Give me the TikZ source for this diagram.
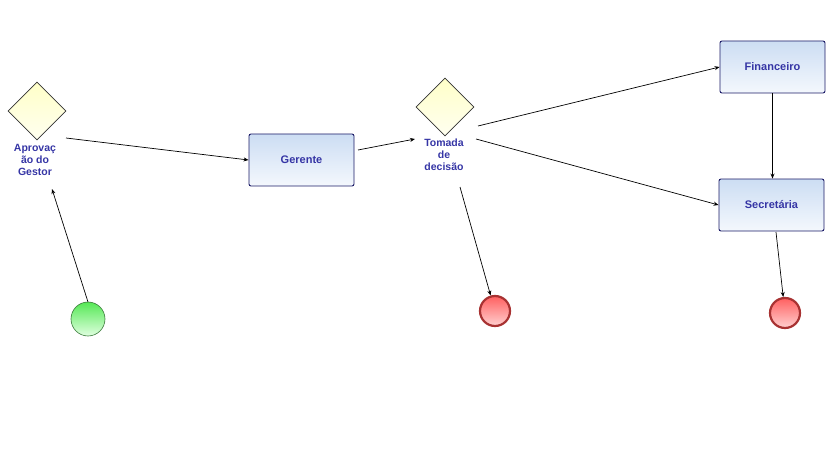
\documentclass[tikz,border=0pt]{standalone}
\usepackage{fontspec}
\setmainfont{Liberation Sans}
\usetikzlibrary{shapes.geometric,arrows.meta}
\definecolor{txtblue}{HTML}{3535A5}
\definecolor{boxborder}{HTML}{1A1A66}
\definecolor{boxtop}{HTML}{CCDDF3}
\definecolor{boxbot}{HTML}{F4F8FD}
\definecolor{gwtop}{HTML}{FFFFC8}
\definecolor{gwbot}{HTML}{FFFFF0}
\definecolor{endtop}{HTML}{FF6060}
\definecolor{endbot}{HTML}{FFD0D0}
\definecolor{endborder}{HTML}{A83232}
\definecolor{starttop}{HTML}{55E855}
\definecolor{startbot}{HTML}{E0FFE0}
\definecolor{startborder}{HTML}{3A7A3A}
\tikzset{
  task/.style={draw=boxborder, line width=0.9pt, rounded corners=2pt, minimum width=105pt, minimum height=52pt, top color=boxtop, bottom color=boxbot, font=\fontsize{11}{13}\selectfont\bfseries, text=txtblue, inner sep=0pt},
  gateway/.style={draw=black!80, line width=0.6pt, diamond, minimum width=58pt, minimum height=58pt, inner sep=0pt, top color=gwtop, bottom color=gwbot},
  gwlabel/.style={font=\fontsize{10.5}{12}\selectfont\bfseries, text=txtblue, align=center, inner sep=0pt},
  endev/.style={circle, draw=endborder, line width=2.2pt, minimum size=30pt, inner sep=0pt, top color=endtop, bottom color=endbot},
  startev/.style={circle, draw=startborder, line width=0.6pt, minimum size=34pt, inner sep=0pt, top color=starttop, bottom color=startbot},
  flow/.style={draw=black, line width=0.7pt, -{Stealth[length=5pt,width=4pt]}},
}
\begin{document}
\begin{tikzpicture}[x=1pt,y=-1pt]
\useasboundingbox (0,0) rectangle (831,460);
% gateways
\node[gateway] (g1) at (37,111) {};
\node[gwlabel] (g1l) at (35,160) {Aprovaç\\ão do\\Gestor};
\node[gateway] (g2) at (445,107) {};
\node[gwlabel] (g2l) at (444,155) {Tomada\\de\\decisão};
% tasks
\node[task] (ger) at (301.5,160) {Gerente};
\node[task] (fin) at (772.5,67) {Financeiro};
\node[task] (sec) at (771.5,205) {Secretária};
% events
\node[startev] (start) at (88,319) {};
\node[endev] (end1) at (495,311) {};
\node[endev] (end2) at (785,313) {};
% coordinates
\coordinate (s1) at (88,302);
\coordinate (t1) at (52,189);
\coordinate (a1) at (66,138);
\coordinate (a2) at (358,150);
\coordinate (b2) at (415,139);
\coordinate (c1) at (478,126);
\coordinate (c2) at (476,139);
\coordinate (c3) at (460,187);
\coordinate (d1) at (776,232);
% flows
\draw[flow] (s1) -- (t1);
\draw[flow] (a1) -- (ger.west);
\draw[flow] (a2) -- (b2);
\draw[flow] (c1) -- (fin.west);
\draw[flow] (c2) -- (sec.west);
\draw[flow] (c3) -- (end1);
\draw[flow] (fin.south) -- (fin.south |- sec.north);
\draw[flow] (d1) -- (end2);
\end{tikzpicture}
\end{document}
